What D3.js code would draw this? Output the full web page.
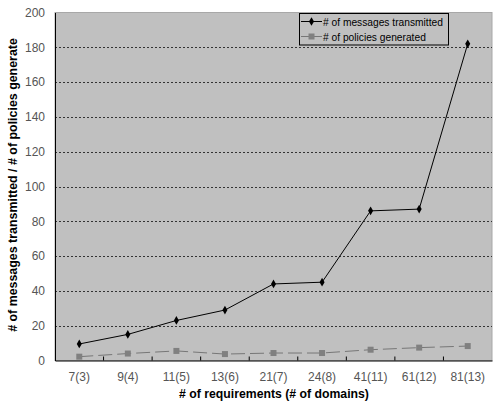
<!DOCTYPE html>
<html><head><meta charset="utf-8">
<script src="https://cdn.jsdelivr.net/npm/d3@7"></script>
<style>body{margin:0;background:#fff;}svg{display:block;font-family:"Liberation Sans",Arial,sans-serif;}</style>
</head><body>
<svg id="c" width="493" height="402"></svg>
<script>
const categories = ["7(3)","9(4)","11(5)","13(6)","21(7)","24(8)","41(11)","61(12)","81(13)"];
const messages = [9.5, 15, 23, 29, 44, 45, 86, 87, 182];
const policies = [2.2, 4, 5.5, 3.7, 4.3, 4.3, 6.2, 7.4, 8.3];
const yTicks = [0,20,40,60,80,100,120,140,160,180,200];
const seriesNames = ["# of messages transmitted", "# of policies generated"];

const svg = d3.select("#c");
const L = 55, R = 492, T = 12.5, B = 360.5;
const x = d3.scaleBand().domain(categories).range([L, R]);
const y = d3.scaleLinear().domain([0, 200]).range([B, T]);

svg.append("rect").attr("x", L).attr("y", T).attr("width", R - L).attr("height", B - T)
  .attr("fill", "#c0c0c0").attr("stroke", "#a8a8a8").attr("stroke-width", 1);

// gridlines
svg.append("g").selectAll("line").data(yTicks.filter(d => d > 0 && d < 200)).join("line")
  .attr("x1", L).attr("x2", R).attr("y1", d => Math.round(y(d)) + 0.5).attr("y2", d => Math.round(y(d)) + 0.5)
  .attr("stroke", "#333").attr("stroke-dasharray", "2,2").attr("stroke-width", 1);

// y axis
const ya = svg.append("g").attr("transform", `translate(${L},0)`)
  .call(d3.axisLeft(y).tickValues(yTicks).tickSize(0).tickPadding(10));
ya.select(".domain").attr("stroke", "#000");
ya.selectAll("text").attr("fill", "#555").attr("font-size", 12).attr("font-family", "Liberation Sans, Arial, sans-serif");

// x axis
const xa = svg.append("g").attr("transform", `translate(0,${B})`)
  .call(d3.axisBottom(x).tickSize(0).tickPadding(11.5));
xa.select(".domain").attr("stroke", "#000");
xa.selectAll("text").attr("fill", "#555").attr("font-size", 12).attr("font-family", "Liberation Sans, Arial, sans-serif");
// category separator ticks (inside)
svg.append("g").selectAll("line").data(categories.slice(1)).join("line")
  .attr("x1", d => x(d)).attr("x2", d => x(d)).attr("y1", B).attr("y2", B - 4)
  .attr("stroke", "#000");

const cx = d => x(d) + x.bandwidth() / 2;

// policies line
svg.append("path").datum(policies)
  .attr("d", d3.line().x((d, i) => cx(categories[i])).y(d => y(d)))
  .attr("fill", "none").attr("stroke", "#777").attr("stroke-width", 1).attr("stroke-dasharray", "14,5");
svg.append("g").selectAll("rect").data(policies).join("rect")
  .attr("x", (d, i) => cx(categories[i]) - 3).attr("y", d => y(d) - 3)
  .attr("width", 6).attr("height", 6).attr("fill", "#808080");

// messages line
svg.append("path").datum(messages)
  .attr("d", d3.line().x((d, i) => cx(categories[i])).y(d => y(d)))
  .attr("fill", "none").attr("stroke", "#000").attr("stroke-width", 1);
const diamond = d3.symbol().type(d3.symbolDiamond).size(22);
svg.append("g").selectAll("path").data(messages).join("path")
  .attr("transform", (d, i) => `translate(${cx(categories[i])},${y(d)})`)
  .attr("d", diamond).attr("fill", "#000");

function fitWidth(sel, w) {
  const n = sel.node(); const fs = parseFloat(sel.attr("font-size"));
  const cur = n.getComputedTextLength();
  if (cur > 0) sel.attr("font-size", (fs * w / cur).toFixed(2));
}

// legend
const lg = svg.append("g");
lg.append("rect").attr("x", 299.5).attr("y", 13.5).attr("width", 149).attr("height", 31.5)
  .attr("fill", "#c0c0c0").attr("stroke", "#000").attr("stroke-width", 1);
const rows = [21.5, 36.5];
lg.append("line").attr("x1", 301).attr("x2", 322).attr("y1", rows[0]).attr("y2", rows[0]).attr("stroke", "#000");
lg.append("path").attr("transform", `translate(311.5,${rows[0]})`).attr("d", diamond).attr("fill", "#000");
lg.append("line").attr("x1", 301).attr("x2", 322).attr("y1", rows[1]).attr("y2", rows[1]).attr("stroke", "#777");
lg.append("rect").attr("x", 308.5).attr("y", rows[1] - 3).attr("width", 6).attr("height", 6).attr("fill", "#808080");
const lt = lg.selectAll("text").data(seriesNames).join("text")
  .attr("x", 323).attr("y", (d, i) => rows[i] + 4).attr("font-size", 11.5).attr("fill", "#000").text(d => d);
fitWidth(d3.select(lt.nodes()[0]), 120);
d3.select(lt.nodes()[1]).attr("font-size", d3.select(lt.nodes()[0]).attr("font-size"));

// axis titles
const xt = svg.append("text").attr("x", 274).attr("y", 397.5).attr("text-anchor", "middle")
  .attr("font-size", 13).attr("font-weight", "bold").attr("fill", "#000")
  .text("# of requirements (# of domains)");
fitWidth(xt, 190);
const yt = svg.append("text").attr("transform", "translate(17,185) rotate(-90)").attr("text-anchor", "middle")
  .attr("font-size", 13).attr("font-weight", "bold").attr("fill", "#000")
  .text("# of messages transmitted / # of policies generate");
fitWidth(yt, 294);
</script>
</body></html>
